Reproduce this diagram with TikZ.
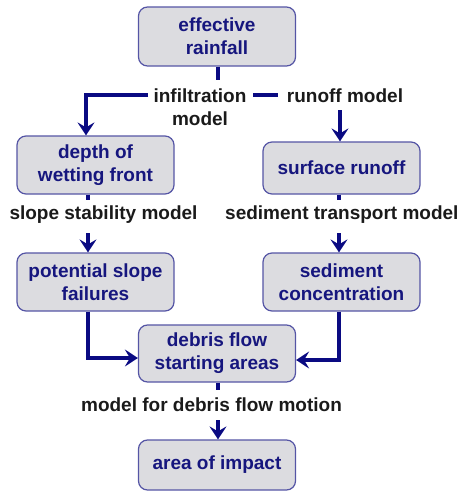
\documentclass[tikz,border=0pt]{standalone}
\usepackage{fontspec}
\setmainfont{Liberation Sans}
\usetikzlibrary{arrows.meta}
\definecolor{boxfill}{HTML}{DCDCE0}
\definecolor{boxline}{HTML}{5555A5}
\definecolor{navytext}{HTML}{16167E}
\definecolor{arrowc}{HTML}{0A0A82}
\definecolor{labeltext}{HTML}{1A1A1A}
\begin{document}
\begin{tikzpicture}[x=1pt,y=-1pt,
  box/.style={draw=boxline, line width=1.2pt, fill=boxfill, rounded corners=9pt,
    minimum width=157pt, align=center, text=navytext, inner sep=0pt,
    font=\fontsize{19}{23}\selectfont\bfseries},
  lbl/.style={text=labeltext, align=center, inner sep=0pt,
    font=\fontsize{19}{23}\selectfont\bfseries},
  conn/.style={draw=arrowc, line width=4pt},
  arr/.style={conn, -{Stealth[length=13pt,width=17pt,inset=5pt]}}]
\useasboundingbox (0,0) rectangle (462,491);
% boxes
\node[box, minimum height=59pt] (rain) at (217,36.5) {effective\\rainfall};
\node[box, minimum height=58pt] (depth) at (95.5,165) {depth of\\wetting front};
\node[box, minimum height=52pt] (surf) at (341.5,168) {surface runoff};
\node[box, minimum height=58pt] (pot) at (95.5,282) {potential slope\\failures};
\node[box, minimum height=58pt] (sed) at (341.5,282) {sediment\\concentration};
\node[box, minimum height=57pt] (deb) at (217,353.5) {debris flow\\starting areas};
\node[box, minimum height=50pt] (area) at (217,465) {area of impact};
% labels
\node[lbl] (infl) at (200,107.5) {infiltration\\model};
\node[lbl] (runl) at (345,96) {runoff model};
\node[lbl] (slopel) at (103.5,215) {slope stability model};
\node[lbl, anchor=west] (sedl) at (225,215) {sediment transport model};
\node[lbl] (motl) at (211.5,405) {model for debris flow motion};
% coordinates
\coordinate (c1) at (218,80);
\coordinate (c2) at (148,95);
\coordinate (c3) at (86,95);
\coordinate (c4) at (253,95);
\coordinate (c5) at (278,95);
\coordinate (c6) at (340,110);
\coordinate (c7) at (88,200);
\coordinate (c8) at (88,233);
\coordinate (c9) at (339,200);
\coordinate (c10) at (339,233);
\coordinate (c11) at (88,358);
\coordinate (c12) at (339,360);
\coordinate (c13) at (218,390);
\coordinate (c14) at (218,420);
% connectors
\draw[conn] (rain.south -| c1) -- (c1);
\draw[arr] (c2) -- (c3) -- (depth.north -| c3);
\draw[conn] (c4) -- (c5);
\draw[arr] (c6) -- (surf.north -| c6);
\draw[conn] (depth.south -| c7) -- (c7);
\draw[arr] (c8) -- (pot.north -| c8);
\draw[conn] (surf.south -| c9) -- (c9);
\draw[arr] (c10) -- (sed.north -| c10);
\draw[arr] (pot.south -| c11) -- (c11) -- (deb.west |- c11);
\draw[arr] (sed.south -| c12) -- (c12) -- (deb.east |- c12);
\draw[conn] (deb.south -| c13) -- (c13);
\draw[arr] (c14) -- (area.north -| c14);
\end{tikzpicture}
\end{document}
